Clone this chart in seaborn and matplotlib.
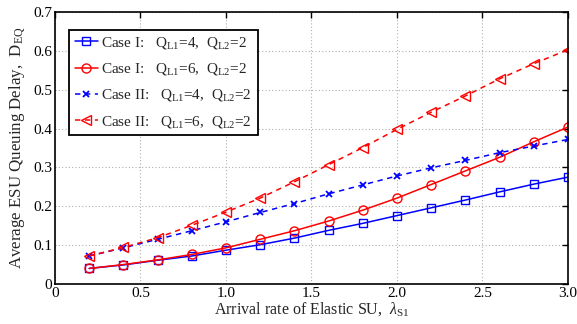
import numpy as np
import pandas as pd
import matplotlib
matplotlib.use("Agg")
import matplotlib.pyplot as plt
import seaborn as sns

# Arrival rate of elastic SU
arrival_rate = [0.2, 0.4, 0.6, 0.8, 1.0, 1.2, 1.4, 1.6, 1.8, 2.0, 2.2, 2.4, 2.6, 2.8, 3.0]

# Average ESU queuing delay for each scheme / buffer configuration
case1_q4 = [0.040, 0.049, 0.061, 0.072, 0.087, 0.101, 0.118, 0.138, 0.156, 0.176,
            0.196, 0.216, 0.237, 0.257, 0.275]
case1_q6 = [0.040, 0.050, 0.062, 0.076, 0.093, 0.115, 0.137, 0.162, 0.190, 0.221,
            0.256, 0.291, 0.326, 0.366, 0.404]
case2_q4 = [0.072, 0.093, 0.115, 0.137, 0.160, 0.184, 0.207, 0.232, 0.255, 0.278,
            0.299, 0.318, 0.338, 0.355, 0.372]
case2_q6 = [0.072, 0.094, 0.119, 0.151, 0.185, 0.221, 0.263, 0.307, 0.351, 0.398,
            0.442, 0.484, 0.528, 0.567, 0.603]

labels = [
    r"Case I:   Q$_{\rm L1}$=4,  Q$_{\rm L2}$=2",
    r"Case I:   Q$_{\rm L1}$=6,  Q$_{\rm L2}$=2",
    r"Case II:   Q$_{\rm L1}$=4,  Q$_{\rm L2}$=2",
    r"Case II:   Q$_{\rm L1}$=6,  Q$_{\rm L2}$=2",
]
x_ticks = [0, 0.5, 1.0, 1.5, 2.0, 2.5, 3.0]
x_ticklabels = ["0", "0.5", "1.0", "1.5", "2.0", "2.5", "3.0"]
y_ticks = [0, 0.1, 0.2, 0.3, 0.4, 0.5, 0.6, 0.7]
y_ticklabels = ["0", "0.1", "0.2", "0.3", "0.4", "0.5", "0.6", "0.7"]

sns.set_style("white")
plt.rcParams["font.family"] = ["Liberation Serif", "DejaVu Serif"]
plt.rcParams["mathtext.fontset"] = "custom"
plt.rcParams["mathtext.rm"] = "Liberation Serif"
plt.rcParams["mathtext.it"] = "Liberation Serif:italic"

frames = []
for lab, vals in zip(labels, [case1_q4, case1_q6, case2_q4, case2_q6]):
    frames.append(pd.DataFrame({"rate": arrival_rate, "delay": vals, "series": lab}))
df = pd.concat(frames, ignore_index=True)

styles = {
    labels[0]: dict(color="#0000ff", marker="s", ls="-", ms=5.5, mew=1.0),
    labels[1]: dict(color="#ff0000", marker="o", ls="-", ms=6.5, mew=1.0),
    labels[2]: dict(color="#0000ff", marker="x", ls=(0, (3.5, 3)), ms=4.5, mew=1.3),
    labels[3]: dict(color="#ff0000", marker="<", ls=(0, (3.5, 3)), ms=7, mew=1.0),
}

fig = plt.figure(figsize=(5.77, 3.24), dpi=100)
ax = fig.add_axes([0.0953, 0.1235, 0.8891, 0.8395])

for lab in labels:
    st = styles[lab]
    sub = df[df["series"] == lab]
    face = st["color"] if st["marker"] == "x" else "none"
    sns.lineplot(data=sub, x="rate", y="delay", ax=ax, color=st["color"],
                 linestyle=st["ls"], linewidth=1.1, marker=st["marker"],
                 markersize=st["ms"], markeredgewidth=st["mew"],
                 markeredgecolor=st["color"], markerfacecolor=face,
                 label=lab, errorbar=None)

ax.set_xlim(0, 3.0)
ax.set_ylim(0, 0.7)
ax.set_xticks(x_ticks)
ax.set_xticklabels(x_ticklabels)
ax.set_yticks(y_ticks)
ax.set_yticklabels(y_ticklabels)
ax.grid(True, color="#b0b0b0", linestyle=(0, (1, 2)), linewidth=0.8)
ax.tick_params(direction="in", length=4, width=1.0, top=True, right=True,
               labelsize=11, pad=2, colors="black")
for sp in ax.spines.values():
    sp.set_color("black")
    sp.set_linewidth(1.2)

ax.set_xlabel(r"Arrival rate of Elastic SU,  $\lambda_{\rm S1}$", fontsize=11.5, labelpad=0)
ax.set_ylabel(r"Average ESU Queuing Delay,  D$_{\rm EQ}$", fontsize=12.2, labelpad=4)

leg = ax.legend(loc="upper left", bbox_to_anchor=(0.028, 0.934), fontsize=11.0,
                frameon=True, fancybox=False, edgecolor="black", framealpha=1,
                handlelength=1.5, handletextpad=0.25, borderpad=0.35,
                labelspacing=0.66, borderaxespad=0)
leg.get_frame().set_linewidth(1.3)

fig.savefig("out.png", dpi=100)
